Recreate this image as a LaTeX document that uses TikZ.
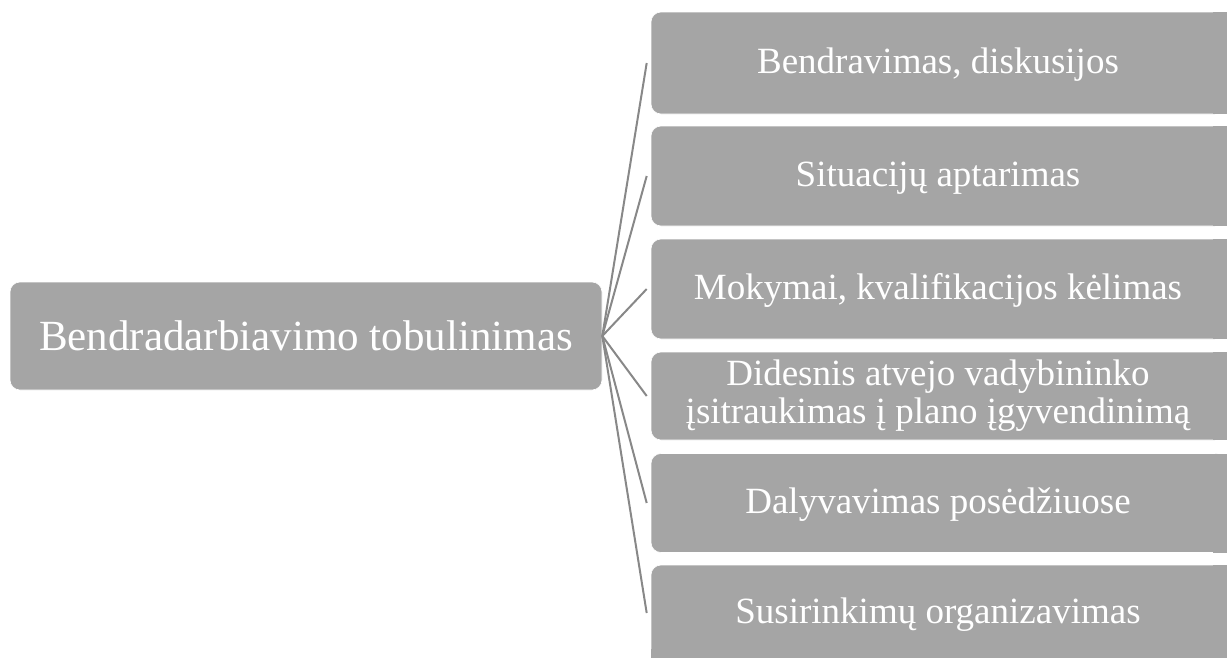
\documentclass[tikz,border=0pt]{standalone}
\usepackage{fontspec}
\setmainfont{Liberation Serif}
\definecolor{boxgray}{HTML}{A5A5A5}
\definecolor{fangray}{HTML}{888888}
\begin{document}
\begin{tikzpicture}[x=1pt,y=-1pt,
  box/.style={fill=boxgray, draw=white, line width=0.6pt, rounded corners=10pt,
              text=white, inner sep=0pt, align=center},
  rootbox/.style={box, minimum width=592pt, minimum height=108pt,
                  font=\fontsize{43}{46}\selectfont},
  leaf/.style={box, minimum width=574pt, font=\fontsize{37}{38}\selectfont},
  oneline/.style={leaf, text height=29pt, text depth=8pt},
  fan/.style={draw=fangray, line width=2pt}]
\useasboundingbox (0,0) rectangle (1227,657);
\clip (0,0) rectangle (1227,657);

% central topic
\node[rootbox] (root) at (306,336) {Bendradarbiavimo tobulinimas};

% list of measures
\node[oneline, minimum height=102pt] (b1) at (938,63)  {Bendravimas, diskusijos};
\node[oneline, minimum height=100pt] (b2) at (938,176) {Situacijų aptarimas};
\node[oneline, minimum height=100pt] (b3) at (938,289) {Mokymai, kvalifikacijos kėlimas};
\node[leaf, minimum height=88pt]     (b4) at (938,396) {Didesnis atvejo vadybininko\\įsitraukimas į plano įgyvendinimą};
\node[oneline, minimum height=99pt]  (b5) at (938,503) {Dalyvavimas posėdžiuose};
\node[oneline, minimum height=96pt]  (b6) at (938,613) {Susirinkimų organizavimas};

% square off the right-hand ends, which run out of the frame
\foreach \b in {b1,b2,b3,b4,b5,b6}
  \fill[boxgray] ([xshift=-12pt,yshift=-0.3pt]\b.north east) rectangle ([xshift=4pt,yshift=0.3pt]\b.south east);
% the last box runs out of the bottom edge as well
\fill[boxgray] ([yshift=12pt]b6.south west) rectangle ([xshift=4pt,yshift=-12pt]b6.south east);

% fan connectors
\foreach \b in {b1,b2,b3,b4,b5,b6}
  \draw[fan] (root.east) -- ([xshift=-4pt]\b.west);
\end{tikzpicture}
\end{document}
